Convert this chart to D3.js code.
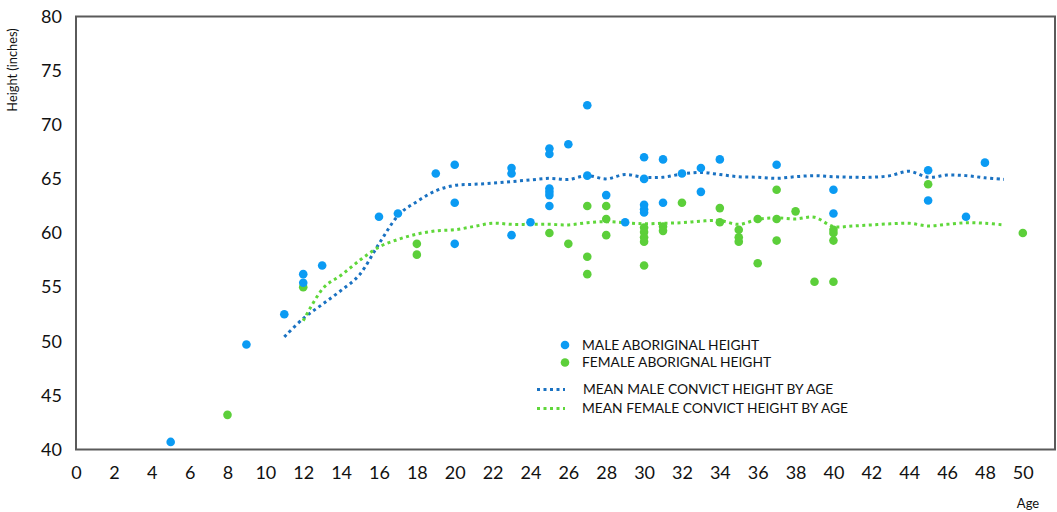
<!DOCTYPE html>
<html lang="en">
<head>
  <meta charset="utf-8">
  <title>Aboriginal and convict height by age</title>
  <script src="https://d3js.org/d3.v7.min.js"></script>
  <style>
    body { margin: 0; background: #fff; }
    #chart text { font-family: Lato, "Open Sans", sans-serif; fill: #111; }
    .tick-label { font-size: 18px; }
    .legend-label { font-size: 13.8px; }
  </style>
</head>
<body>
  <div id="chart"></div>

  <script>
    "use strict"

    // aboriginal heights, one entry per point
    var maleAge = [5, 9, 11, 12, 12, 13, 16, 17, 19, 20, 20, 20, 23, 23, 23, 24,
      25, 25, 25, 25, 25, 25, 26, 27, 27, 28, 29, 30, 30, 30, 30, 30, 31, 31,
      32, 33, 33, 34, 37, 40, 40, 45, 45, 47, 48];
    var maleHeight = [40.7, 49.7, 52.5, 56.2, 55.4, 57.0, 61.5, 61.8, 65.5, 66.3, 62.8, 59.0, 66.0, 65.5, 59.8, 61.0,
      67.8, 67.3, 64.1, 63.8, 63.5, 62.5, 68.2, 71.8, 65.3, 63.5, 61.0, 67.0, 65.0, 62.6, 62.2, 61.9, 66.8, 62.8,
      65.5, 66.0, 63.8, 66.8, 66.3, 64.0, 61.8, 65.8, 63.0, 61.5, 66.5];

    var femaleAge = [8, 12, 18, 18, 25, 26, 27, 27, 27, 28, 28, 28, 30, 30, 30, 30, 30,
      31, 31, 32, 34, 34, 35, 35, 35, 36, 36, 37, 37, 37, 38, 39, 40, 40, 40, 40, 45, 50];
    var femaleHeight = [43.2, 55.0, 59.0, 58.0, 60.0, 59.0, 62.5, 57.8, 56.2, 62.5, 61.3, 59.8, 60.5, 60.1, 59.6, 59.2, 57.0,
      60.6, 60.2, 62.8, 62.3, 61.0, 60.3, 59.6, 59.2, 61.3, 57.2, 64.0, 61.3, 59.3, 62.0, 55.5, 60.3, 60.0, 59.3, 55.5, 64.5, 60.0];

    // mean convict height by age
    var meanMaleAge = d3.range(11, 50);
    var meanMale = [50.4, 52.1, 53.4, 54.7, 56.2, 59.0, 61.6, 62.9, 63.9, 64.4,
      64.5, 64.6, 64.75, 64.9, 65.05, 64.95, 65.3, 65.0, 65.4, 65.15,
      65.15, 65.45, 65.6, 65.4, 65.2, 65.15, 65.05, 65.2, 65.3, 65.2,
      65.15, 65.15, 65.3, 65.7, 65.15, 65.35, 65.3, 65.1, 64.95];
    var meanFemaleAge = d3.range(12, 50);
    var meanFemale = [51.9, 54.8, 56.1, 57.5, 58.7, 59.4, 59.9, 60.2, 60.3,
      60.6, 60.9, 60.8, 60.8, 60.8, 60.75, 60.95, 61.05, 60.95, 60.85,
      60.9, 60.95, 61.1, 61.15, 60.8, 61.25, 61.4, 61.3, 61.45, 60.6,
      60.65, 60.75, 60.85, 60.9, 60.65, 60.8, 60.95, 60.9, 60.75];

    var xTicks = d3.range(0, 51, 2);
    var yTicks = [40, 45, 50, 55, 60, 65, 70, 75, 80];

    var legendLabels = ["MALE ABORIGINAL HEIGHT", "FEMALE ABORIGNAL HEIGHT",
      "MEAN MALE CONVICT HEIGHT BY AGE", "MEAN FEMALE CONVICT HEIGHT BY AGE"];

    var largura = 1057, altura = 512;
    var area = {left: 76, right: 1055, top: 16.5, bottom: 449.5};

    var corMacho = "#0b9bf3", corFemea = "#5ccf3a";
    var corLinhaMacho = "#1a72c2", corLinhaFemea = "#5fd73a";

    var svg = d3.select("#chart").append("svg")
      .attr("width", largura)
      .attr("height", altura);

    var x = d3.scaleLinear().domain([0, 51.7]).range([area.left, area.right]);
    var y = d3.scaleLinear().domain([40, 80]).range([area.bottom, area.top]);

    // eixos sem marcas, so os numeros
    var eixoX = svg.append("g")
      .attr("transform", "translate(0," + area.bottom + ")")
      .call(d3.axisBottom(x).tickValues(xTicks).tickSize(0).tickPadding(17));
    eixoX.select(".domain").remove();
    eixoX.selectAll("text").attr("class", "tick-label").attr("fill", "#111");

    var eixoY = svg.append("g")
      .attr("transform", "translate(" + area.left + ",0)")
      .call(d3.axisLeft(y).tickValues(yTicks).tickSize(0).tickPadding(14));
    eixoY.select(".domain").remove();
    eixoY.selectAll("text").attr("class", "tick-label").attr("fill", "#111");

    svg.append("rect")
      .attr("x", area.left).attr("y", area.top)
      .attr("width", area.right - area.left)
      .attr("height", area.bottom - area.top)
      .attr("fill", "none")
      .attr("stroke", "#5a5a5a")
      .attr("stroke-width", 2);

    svg.append("text")
      .attr("transform", "translate(17,70) rotate(-90)")
      .attr("text-anchor", "middle")
      .style("font-size", "12.8px")
      .text("Height (inches)");

    svg.append("text")
      .attr("x", 1028).attr("y", 508)
      .attr("text-anchor", "middle")
      .style("font-size", "13px")
      .text("Age");

    // linhas das medias
    var linha = d3.line()
      .x(d => x(d[0]))
      .y(d => y(d[1]))
      .curve(d3.curveCatmullRom.alpha(0));

    svg.append("path")
      .datum(d3.zip(meanMaleAge, meanMale))
      .attr("d", linha)
      .attr("fill", "none")
      .attr("stroke", corLinhaMacho)
      .attr("stroke-width", 3)
      .attr("stroke-dasharray", "3,3.5");

    svg.append("path")
      .datum(d3.zip(meanFemaleAge, meanFemale))
      .attr("d", linha)
      .attr("fill", "none")
      .attr("stroke", corLinhaFemea)
      .attr("stroke-width", 3)
      .attr("stroke-dasharray", "3,3.5");

    // pontos
    svg.append("g").selectAll("circle")
      .data(d3.zip(femaleAge, femaleHeight))
      .enter().append("circle")
        .attr("cx", d => x(d[0]))
        .attr("cy", d => y(d[1]))
        .attr("r", 4.3)
        .attr("fill", corFemea);

    svg.append("g").selectAll("circle")
      .data(d3.zip(maleAge, maleHeight))
      .enter().append("circle")
        .attr("cx", d => x(d[0]))
        .attr("cy", d => y(d[1]))
        .attr("r", 4.3)
        .attr("fill", corMacho);

    // legenda
    var leg = svg.append("g");
    leg.append("circle").attr("cx", 565).attr("cy", 345).attr("r", 4.3).attr("fill", corMacho);
    leg.append("circle").attr("cx", 565).attr("cy", 362.5).attr("r", 4.3).attr("fill", corFemea);
    leg.append("line").attr("x1", 537).attr("x2", 565).attr("y1", 389.5).attr("y2", 389.5)
      .attr("stroke", corLinhaMacho).attr("stroke-width", 3).attr("stroke-dasharray", "3,3.5");
    leg.append("line").attr("x1", 537).attr("x2", 565).attr("y1", 408.5).attr("y2", 408.5)
      .attr("stroke", corLinhaFemea).attr("stroke-width", 3).attr("stroke-dasharray", "3,3.5");

    var legY = [345, 362.5, 389.5, 408.5];
    var legX = [582, 582, 583, 582];
    leg.selectAll("text.legend-label")
      .data(legendLabels)
      .enter().append("text")
        .attr("class", "legend-label")
        .attr("x", (d, i) => legX[i])
        .attr("y", (d, i) => legY[i])
        .attr("dy", "0.36em")
        .text(d => d);
  </script>
</body>
</html>
